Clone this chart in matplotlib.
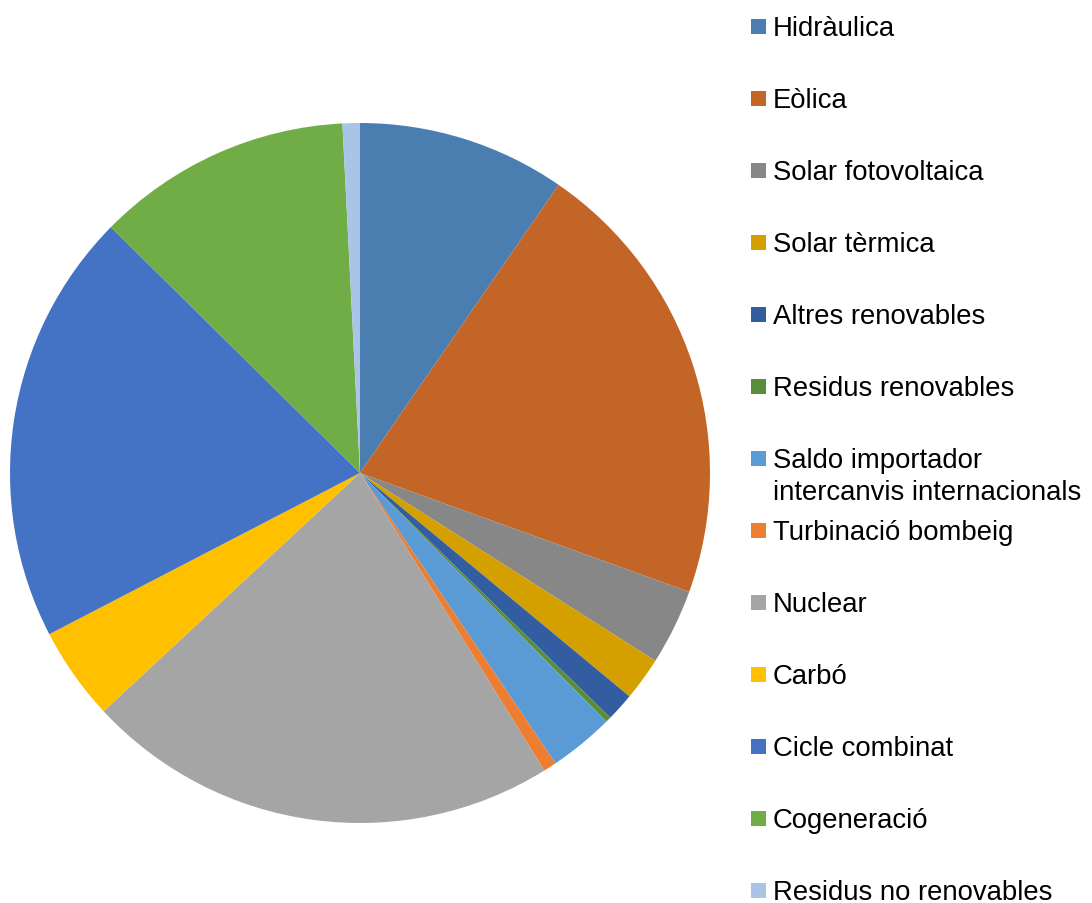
import matplotlib
matplotlib.use("Agg")
import matplotlib.pyplot as plt
from matplotlib.patches import Rectangle

labels = ["Hidràulica", "Eòlica", "Solar fotovoltaica", "Solar tèrmica",
          "Altres renovables", "Residus renovables",
          "Saldo importador\nintercanvis internacionals", "Turbinació bombeig",
          "Nuclear", "Carbó", "Cicle combinat", "Cogeneració",
          "Residus no renovables"]
values = [9.6, 20.9, 3.5, 2.0, 1.3, 0.25, 3.0, 0.6, 21.9, 4.3, 20.0, 11.8, 0.8]
colors = ["#4A7EB1", "#C46528", "#878787", "#D4A000", "#335DA1", "#5A8D3A",
          "#5B9BD5", "#ED7D31", "#A5A5A5", "#FFC000", "#4472C4", "#70AD47",
          "#A9C4E6"]

plt.rcParams['font.family'] = ['Liberation Sans', 'DejaVu Sans']

W, H = 1092, 904
fig = plt.figure(figsize=(W / 100, H / 100), dpi=100)
cx, cy, r = 360, 474, 350
ax = fig.add_axes([(cx - r) / W, (H - cy - r) / H, 2 * r / W, 2 * r / H])
ax.pie(values, colors=colors, startangle=90, counterclock=False,
       wedgeprops=dict(linewidth=0, edgecolor='none', antialiased=True))
ax.set_xlim(-1, 1)
ax.set_ylim(-1, 1)
ax.set_aspect('equal')
ax.axis('off')

# legend
for i, (lab, col) in enumerate(zip(labels, colors)):
    yc = 27 + 72 * i
    fig.patches.append(Rectangle((751 / W, (H - yc - 7.5) / H), 15 / W, 15 / H,
                                 transform=fig.transFigure, facecolor=col,
                                 edgecolor='none'))
    nlines = lab.count('\n') + 1
    ybase = yc + 9 + 32 * (nlines - 1)
    fig.text(773 / W, (H - ybase) / H, lab, fontsize=19.8, color='black',
             ha='left', va='baseline', linespacing=1.3)

fig.savefig("out.png", dpi=100)
